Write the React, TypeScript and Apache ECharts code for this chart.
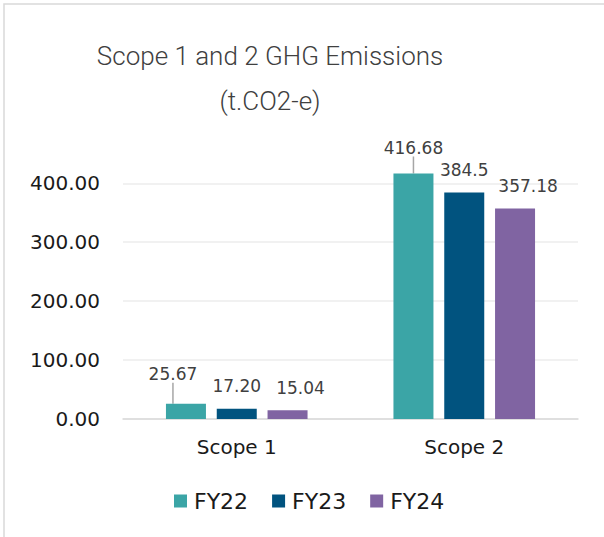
import React, { useEffect, useRef } from "react";
import * as echarts from "echarts";

const categories = ["Scope 1", "Scope 2"];
const seriesNames = ["FY22", "FY23", "FY24"];
const fy22 = [25.67, 416.68];
const fy23 = [17.2, 384.5];
const fy24 = [15.04, 357.18];
const labelTexts = [
  ["25.67", "416.68"],
  ["17.20", "384.5"],
  ["15.04", "357.18"],
];
const colors = ["#3BA5A6", "#01537F", "#8064A2"];
const yTicks = [0, 100, 200, 300, 400];

export default function App() {
  const ref = useRef<HTMLDivElement>(null);
  useEffect(() => {
    if (!ref.current) return;
    const chart = echarts.init(ref.current, null, { renderer: "svg" });
    const values = [fy22, fy23, fy24];
    const moves = [
      [[-13, -7], [0, -3]],
      [[0, 0], [0, 0]],
      [[13, 0], [13, 0]],
    ];
    const series = values.map((vals, si) => ({
      type: "bar",
      name: seriesNames[si],
      data: vals,
      barWidth: 40,
      barGap: "27%",
      clip: false,
      itemStyle: { color: colors[si] },
      label: {
        show: true,
        position: "top",
        distance: 14,
        fontFamily: "DejaVu Sans",
        fontSize: 17,
        color: "#404040",
        formatter: (p: any) => labelTexts[si][p.dataIndex],
      },
      labelLine: si === 0 ? { show: true, lineStyle: { color: "#a6a6a6", width: 1.5 } } : { show: false },
      labelLayout: (p: any) => {
        const m = moves[si][p.dataIndex];
        return { dx: m[0], dy: m[1] };
      },
    }));
    chart.setOption({
      animation: false,
      backgroundColor: "#ffffff",
      title: {
        text: "Scope 1 and 2 GHG Emissions\n(t.CO2-e)",
        left: 265,
        top: 28,
        textAlign: "center",
        textStyle: {
          fontFamily: "Roboto",
          fontWeight: 300,
          fontSize: 26,
          lineHeight: 45,
          color: "#404040",
        },
      },
      graphic: [
        {
          type: "rect",
          shape: { x: 4, y: 4, width: 700, height: 700 },
          style: { fill: "none", stroke: "#d9d9d9", lineWidth: 1.5 },
          silent: true,
        },
      ],
      legend: {
        data: seriesNames,
        left: 174,
        top: 490,
        padding: 0,
        itemWidth: 13,
        itemHeight: 13,
        itemGap: 24,
        icon: "rect",
        textStyle: { fontFamily: "DejaVu Sans", fontSize: 22, color: "#1a1a1a", padding: [0, 0, 0, 2] },
      },
      grid: { left: 123, right: 26, top: 183.3, bottom: 118 },
      xAxis: {
        type: "category",
        data: categories,
        axisLine: { show: true, lineStyle: { color: "#d9d9d9", width: 1.5 } },
        axisTick: { show: false },
        axisLabel: { fontFamily: "DejaVu Sans", fontSize: 20, color: "#1a1a1a", margin: 18 },
      },
      yAxis: {
        type: "value",
        min: yTicks[0],
        max: yTicks[yTicks.length - 1],
        interval: 100,
        axisLine: { show: false },
        axisTick: { show: false },
        splitLine: { lineStyle: { color: "#ececec", width: 1.5 } },
        axisLabel: {
          fontFamily: "DejaVu Sans",
          fontSize: 20,
          color: "#1a1a1a",
          margin: 23,
          formatter: (v: number) => v.toFixed(2),
        },
      },
      series,
    });
    return () => chart.dispose();
  }, []);
  return (
    <div
      ref={ref}
      style={{ position: "fixed", left: 0, top: 0, width: 604, height: 537 }}
    />
  );
}
